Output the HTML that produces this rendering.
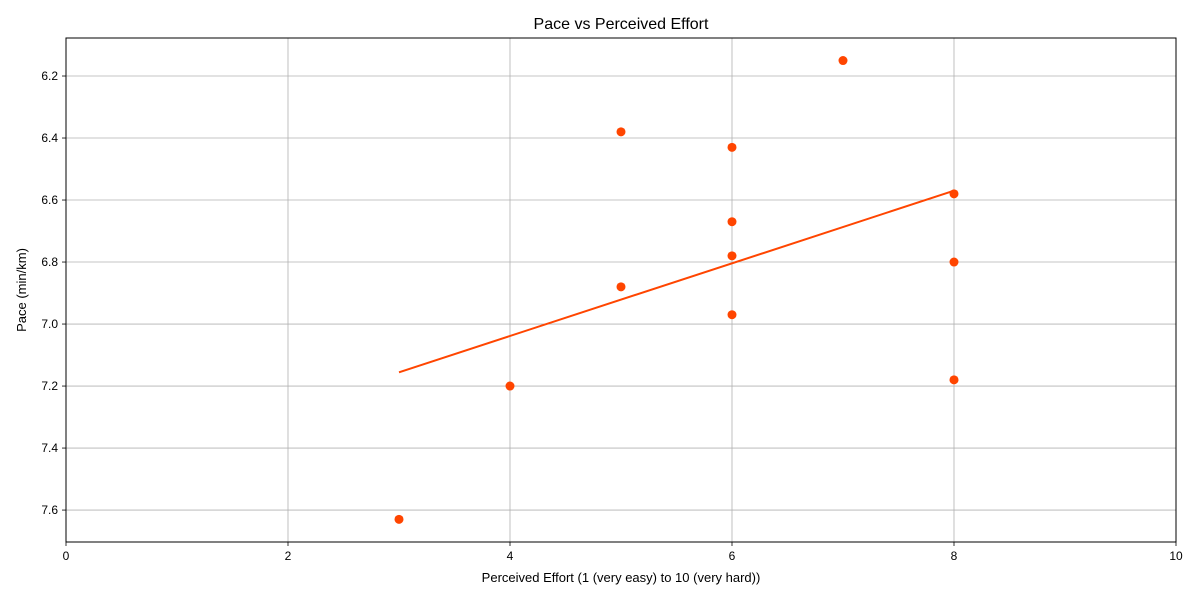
<!DOCTYPE html>
<html><head><meta charset="utf-8"><style>
body{margin:0;background:#fff;}
svg{display:block;font-family:"Liberation Sans","DejaVu Sans",sans-serif;}
</style></head><body>
<svg id="chart" width="1200" height="600"></svg>
<script>
const effort = [7,5,6,8,6,6,8,5,6,8,4,3];
const pace = [6.15,6.38,6.43,6.58,6.67,6.78,6.80,6.88,6.97,7.18,7.20,7.63];
const xTicks = [0,2,4,6,8,10];
const yTicks = [6.2,6.4,6.6,6.8,7.0,7.2,7.4,7.6];

const L=66,R=1176,T=38,B=542;
const xMin=0,xMax=10,yTop=6.0774,yBot=7.703;
const sx=v=>L+(v-xMin)/(xMax-xMin)*(R-L);
const sy=v=>T+(v-yTop)/(yBot-yTop)*(B-T);
const svg=document.getElementById('chart');
const NS='http://www.w3.org/2000/svg';
function mk(tag,attrs,parent){const e=document.createElementNS(NS,tag);for(const k in attrs)e.setAttribute(k,attrs[k]);(parent||svg).appendChild(e);return e;}

const grid=mk('g',{});


xTicks.forEach(t=>{
  mk('line',{x1:sx(t),x2:sx(t),y1:T,y2:B,stroke:'#b0b0b0','stroke-width':0.8},grid);
  mk('line',{x1:sx(t),x2:sx(t),y1:B,y2:B+4,stroke:'#000','stroke-width':0.8});
  const tx=mk('text',{x:sx(t),y:B+18,'text-anchor':'middle','font-size':12});
  tx.textContent=t;
  
  
});
yTicks.forEach(t=>{
  mk('line',{x1:L,x2:R,y1:sy(t),y2:sy(t),stroke:'#b0b0b0','stroke-width':0.8},grid);
  mk('line',{x1:L-4,x2:L,y1:sy(t),y2:sy(t),stroke:'#000','stroke-width':0.8});
  const tx=mk('text',{x:L-8,y:sy(t)+4,'text-anchor':'end','font-size':12});
  tx.textContent=t.toFixed(1);
  
  
});

// regression
const n=effort.length;
const mx=effort.reduce((a,b)=>a+b,0)/n, my=pace.reduce((a,b)=>a+b,0)/n;
let sxy=0,sxx=0;
for(let i=0;i<n;i++){sxy+=(effort[i]-mx)*(pace[i]-my);sxx+=(effort[i]-mx)**2;}
const m=sxy/sxx,c=my-m*mx;
const x0=Math.min(...effort),x1=Math.max(...effort);
const tl=mk('line',{x1:sx(x0),y1:sy(m*x0+c),x2:sx(x1),y2:sy(m*x1+c),stroke:'#ff4500','stroke-width':2});



for(let i=0;i<n;i++){
  const p=mk('circle',{cx:sx(effort[i]),cy:sy(pace[i]),r:4.5,fill:'#ff4500'});
  
  
}

const frame=mk('rect',{x:L,y:T,width:R-L,height:B-T,fill:'none',stroke:'#000','stroke-width':1});



const title=mk('text',{x:(L+R)/2,y:29,'text-anchor':'middle','font-size':16});
title.textContent='Pace vs Perceived Effort';


const xt=mk('text',{x:(L+R)/2,y:582,'text-anchor':'middle','font-size':13});
xt.textContent='Perceived Effort (1 (very easy) to 10 (very hard))';


const yt=mk('text',{x:26,y:(T+B)/2,'text-anchor':'middle','font-size':13,transform:'rotate(-90 26 '+((T+B)/2)+')'});
yt.textContent='Pace (min/km)';


</script>
</body></html>
